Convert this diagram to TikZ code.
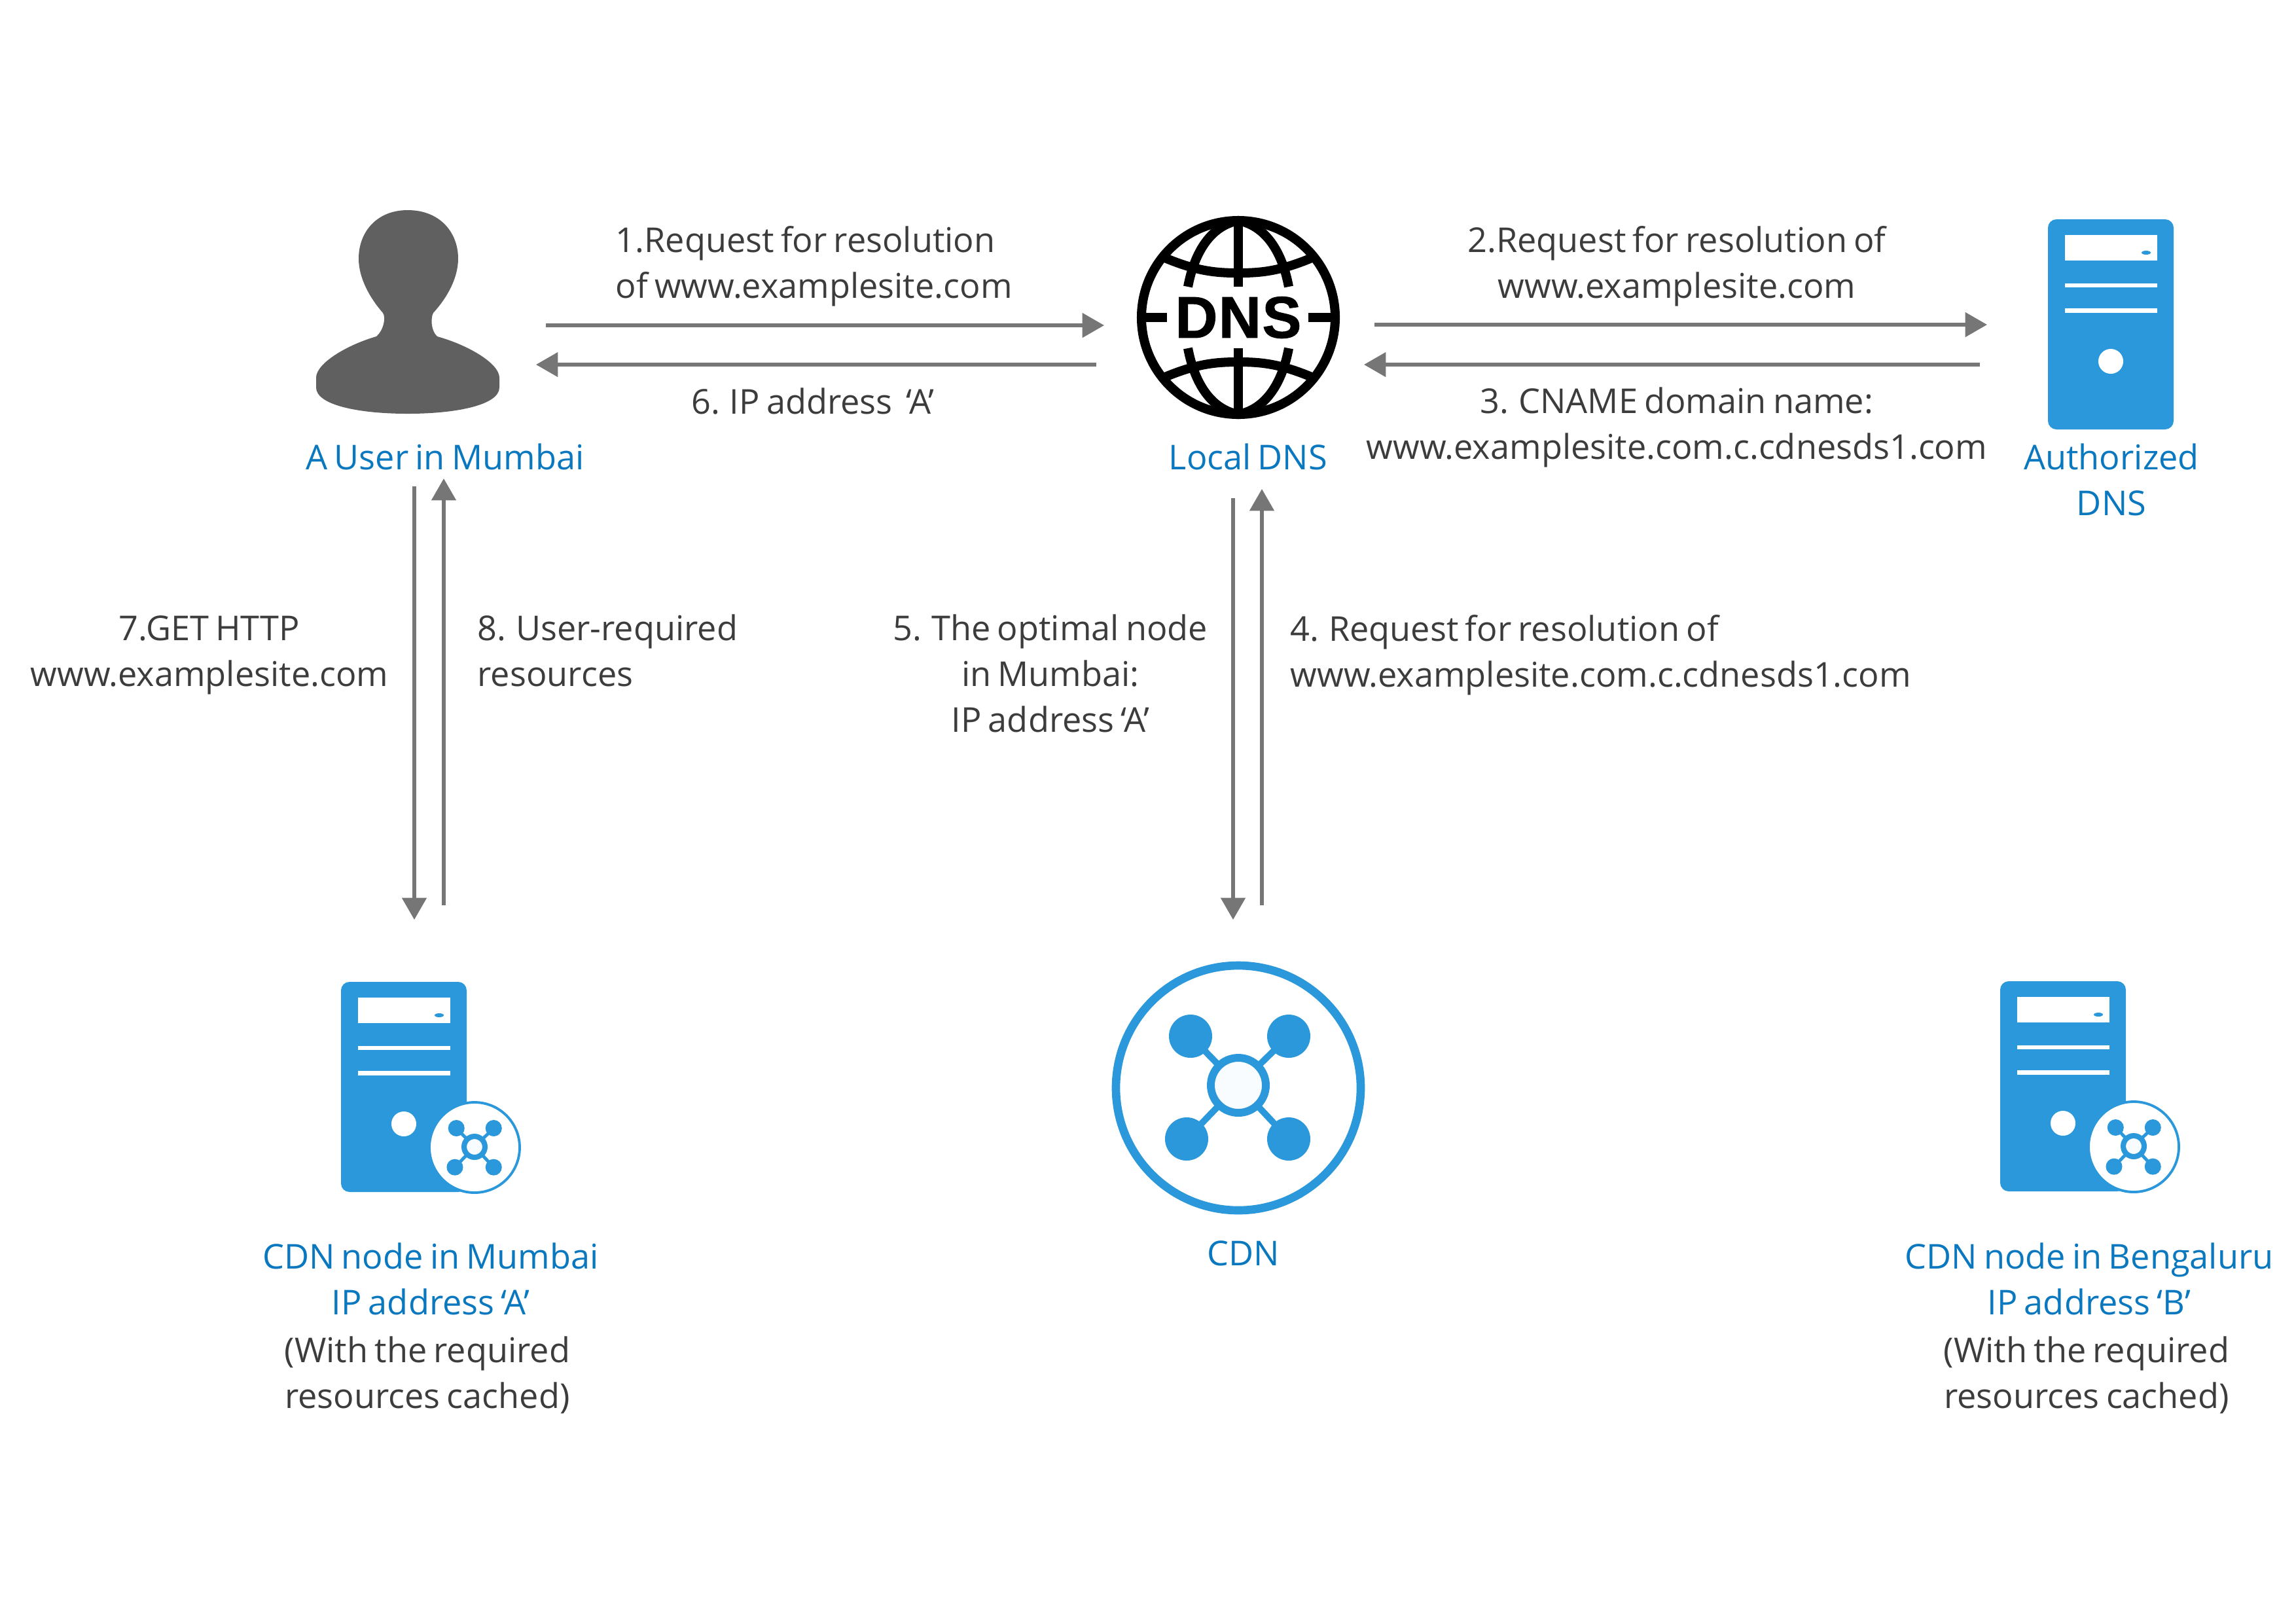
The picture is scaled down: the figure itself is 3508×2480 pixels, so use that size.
\documentclass[tikz,border=0pt]{standalone}
\usepackage{fontspec}
\usepackage{tikz}
\usetikzlibrary{arrows.meta}
\setmainfont[WordSpace=0.75]{Open Sans}
\newfontfamily\dnsfont[BoldFeatures={FakeBold=1.2},LetterSpace=2]{Liberation Sans}

\definecolor{iconblue}{HTML}{2B98DC}
\definecolor{labelblue}{HTML}{0A78BF}
\definecolor{textgray}{HTML}{3C3C3C}
\definecolor{arrowgray}{HTML}{767676}
\definecolor{usergray}{HTML}{606060}
\definecolor{hubwhite}{HTML}{F8FCFF}

\tikzset{
  flow/.style={draw=arrowgray,line width=1.5pt,-{Triangle[length=9.5pt,width=10.5pt]}},
  msg/.style={text=textgray,inner sep=0pt,font=\fontsize{14.86}{19.85}\selectfont,align=center},
  msgleft/.style={msg,align=left,anchor=west},
  tag/.style={msg,text=labelblue}
}

% cluster of four dots round a ring: centre x, centre y, size, ring width, spoke width
\newcommand{\cdnhub}[5]{
  \begin{scope}[shift={(#1,#2)},scale=#3]
    \draw[iconblue,line width=#5] (-73,-75) -- (0,0) (77,-75) -- (0,0)
      (-79,82) -- (0,0) (77,82) -- (0,0);
    \fill[iconblue] (-73,-75) circle (33) (77,-75) circle (33)
      (-79,82) circle (33) (77,82) circle (33);
    \draw[iconblue,fill=hubwhite,line width=#4] (0,0) circle (42);
  \end{scope}
}

% server tower from its top left corner: x, y
\newcommand{\servertower}[2]{
  \begin{scope}[shift={(#1,#2)}]
    \fill[iconblue,rounded corners=3.7pt] (0,0) rectangle (192,321);
    \fill[white] (26,24) rectangle (167,63);
    \fill[iconblue] (150,51) ellipse (7 and 3);
    \fill[white] (26,98) rectangle (167,104);
    \fill[white] (26,136) rectangle (167,143);
    \fill[white] (96,217) circle (19);
  \end{scope}
}

% tower with the round badge
\newcommand{\cdnserver}[2]{
  \servertower{#1}{#2}
  \begin{scope}[shift={(#1,#2)}]
    \draw[iconblue,fill=white,line width=1.1pt] (204,253) circle (69);
    \cdnhub{204}{252}{0.38}{2.3pt}{1.4pt}
  \end{scope}
}

\begin{document}
\begin{tikzpicture}[x=0.01cm,y=-0.01cm]
    \useasboundingbox (0,0) rectangle (3508,2480);

    % User
    \fill[usergray] (623,321) .. controls (672,321) and (700,355) .. (700,395)
      .. controls (700,425) and (683,455) .. (662,478)
      .. controls (658,485) and (658,505) .. (668,514)
      .. controls (715,527) and (763,555) .. (763,577) -- (763,592)
      .. controls (763,618) and (700,632) .. (623,632)
      .. controls (545,632) and (483,618) .. (483,592) -- (483,577)
      .. controls (483,555) and (530,527) .. (575,514)
      .. controls (586,505) and (590,485) .. (585,478)
      .. controls (565,455) and (548,425) .. (548,395)
      .. controls (548,355) and (575,321) .. (623,321) -- cycle;

    % Globe
    \begin{scope}[black,line width=4pt]
      \draw (1892,485) circle (148);
      \draw (1892,337) -- (1892,438) (1892,532) -- (1892,633);
      \draw (1745,485) -- (1783,485) (1999,485) -- (2039,485);
      \draw (1780,394) .. controls (1830,415) and (1860,417) .. (1892,417)
        .. controls (1924,417) and (1954,415) .. (2004,394);
      \draw (1780,576) .. controls (1830,555) and (1860,553) .. (1892,553)
        .. controls (1924,553) and (1954,555) .. (2004,576);
      \draw (1815,438) .. controls (1825,385) and (1850,345) .. (1892,337)
        .. controls (1934,345) and (1959,385) .. (1969,438);
      \draw (1815,532) .. controls (1825,585) and (1850,625) .. (1892,633)
        .. controls (1934,625) and (1959,585) .. (1969,532);
    \end{scope}
    \node[inner sep=0pt,font=\dnsfont\bfseries\fontsize{25.5}{26}\selectfont] (dnsword) at (1892,485) {DNS};

    % Servers and CDN
    \servertower{3129}{335}
    \cdnserver{521}{1500}
    \cdnserver{3056}{1499}
    \draw[iconblue,line width=3.6pt] (1892,1662) circle (187);
    \cdnhub{1892}{1658}{1}{3.4pt}{2.8pt}

    % Arrow ends
    \coordinate (req1a) at (834,497);   \coordinate (req1b) at (1687,497);
    \coordinate (ans6a) at (1675,557);  \coordinate (ans6b) at (819,557);
    \coordinate (req2a) at (2100,496);  \coordinate (req2b) at (3036,496);
    \coordinate (ans3a) at (3025,557);  \coordinate (ans3b) at (2084,557);
    \coordinate (get7a) at (633,743);   \coordinate (get7b) at (633,1405);
    \coordinate (res8a) at (678,1383);  \coordinate (res8b) at (678,731);
    \coordinate (ans5a) at (1884,761);  \coordinate (ans5b) at (1884,1405);
    \coordinate (req4a) at (1928,1383); \coordinate (req4b) at (1928,747);

    \draw[flow] (req1a) -- (req1b);
    \draw[flow] (ans6a) -- (ans6b);
    \draw[flow] (req2a) -- (req2b);
    \draw[flow] (ans3a) -- (ans3b);
    \draw[flow] (get7a) -- (get7b);
    \draw[flow] (res8a) -- (res8b);
    \draw[flow] (ans5a) -- (ans5b);
    \draw[flow] (req4a) -- (req4b);

    % Messages
    \node[msgleft] (msg1) at (940,407) {1.Request for resolution\\of www.examplesite.com};
    \node[msg] (msg2) at (2562,407) {2.Request for resolution of\\www.examplesite.com};
    \node[msg] (msg3) at (2562,653) {3. CNAME domain name:\\www.examplesite.com.c.cdnesds1.com};
    \node[msgleft] (msg4) at (1971,1001) {4. Request for resolution of\\www.examplesite.com.c.cdnesds1.com};
    \node[msg] (msg5) at (1605,1029) {5. The optimal node\\in Mumbai:\\IP address ‘A’};
    \node[msg] (msg6) at (1242,613) {6. IP address\ \ ‘A’};
    \node[msg] (msg7) at (320,1001) {7.GET HTTP\\www.examplesite.com};
    \node[msgleft] (msg8) at (729,994) {8. User-required\\resources};

    % Labels
    \node[tag] (userlabel) at (680,698) {A User in Mumbai};
    \node[tag] (locallabel) at (1907,698) {Local DNS};
    \node[tag] (authlabel) at (3226,733) {Authorized\\DNS};
    \node[tag] (cdnlabel) at (1900,1915) {CDN};
    \node[tag] (mumbailabel) at (658,1954) {CDN node in Mumbai\\IP address ‘A’};
    \node[msg] (mumbainote) at (653,2101) {(With the required\\resources cached)};
    \node[tag] (bengalabel) at (3192,1954) {CDN node in Bengaluru\\IP address ‘B’};
    \node[msg] (benganote) at (3188,2101) {(With the required\\resources cached)};

\end{tikzpicture}
\end{document}
